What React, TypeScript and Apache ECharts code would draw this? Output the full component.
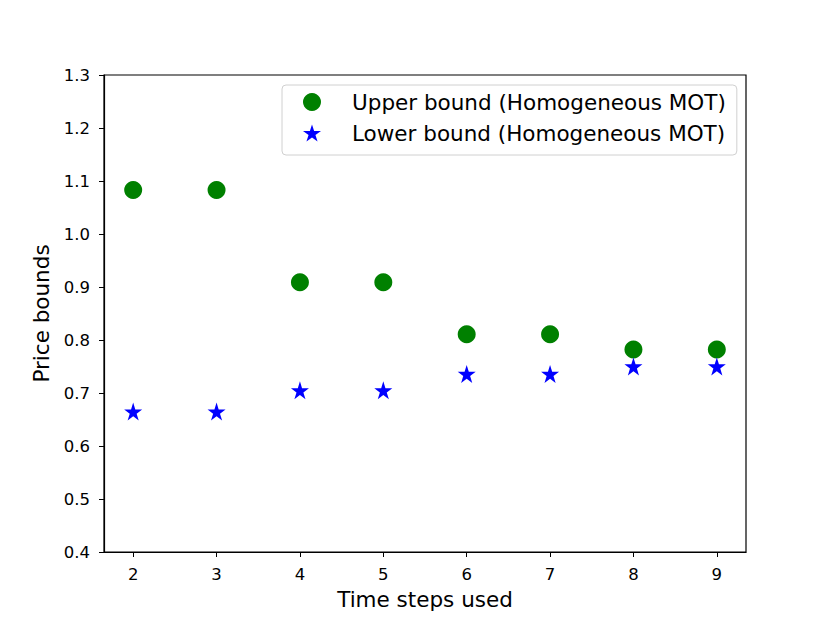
import React, { useEffect, useRef } from "react";
import * as echarts from "echarts";

const timeSteps = [2, 3, 4, 5, 6, 7, 8, 9];
const upperBound = [1.083, 1.083, 0.909, 0.909, 0.811, 0.811, 0.782, 0.782];
const lowerBound = [0.665, 0.665, 0.705, 0.705, 0.736, 0.736, 0.75, 0.75];
const yTicks = [0.4, 0.5, 0.6, 0.7, 0.8, 0.9, 1.0, 1.1, 1.2, 1.3];

const STAR =
  "path://M50,0 L61.2,34.5 L97.6,34.5 L68.2,55.9 L79.4,90.5 L50,69.1 L20.6,90.5 L31.8,55.9 L2.4,34.5 L38.8,34.5 Z";

const FONT = "DejaVu Sans";

export default function App() {
  const ref = useRef<HTMLDivElement>(null);
  useEffect(() => {
    if (!ref.current) return;
    const chart = echarts.init(ref.current, null, { renderer: "svg" });
    chart.setOption({
      animation: false,
      backgroundColor: "#ffffff",
      textStyle: { fontFamily: FONT },
      grid: {
        left: 104,
        right: 82,
        top: 75,
        bottom: 69,
        show: true,
        borderColor: "#000",
        borderWidth: 1.2,
        backgroundColor: "transparent",
      },
      legend: {
        orient: "vertical",
        left: 282,
        top: 85,
        padding: [6, 11, 11, 21],
        itemGap: 9,
        itemWidth: 18,
        itemHeight: 18,
        backgroundColor: "#fff",
        borderColor: "#d0d0d0",
        borderWidth: 1,
        borderRadius: 4,
        textStyle: {
          fontFamily: FONT,
          fontSize: 21.5,
          lineHeight: 22,
          color: "#000",
          padding: [0, 0, 0, 26],
        },
        data: [
          { name: "Upper bound (Homogeneous MOT)", icon: "circle" },
          { name: "Lower bound (Homogeneous MOT)", icon: STAR },
        ],
      },
      xAxis: {
        type: "value",
        min: 1.65,
        max: 9.35,
        name: "Time steps used",
        nameLocation: "middle",
        nameGap: 36,
        nameTextStyle: { fontFamily: FONT, fontSize: 21.5, color: "#000" },
        splitLine: { show: false },
        axisLine: { show: true, onZero: false, lineStyle: { color: "#000", width: 1.2 } },
        axisTick: {
          show: true,
          length: 5,
          inside: false,
          lineStyle: { color: "#000", width: 1 },
          customValues: timeSteps,
        },
        axisLabel: {
          fontFamily: FONT,
          fontSize: 16.5,
          color: "#000",
          margin: 14,
          customValues: timeSteps,
          formatter: (v: number) => String(v),
        },
      },
      yAxis: {
        type: "value",
        min: 0.4,
        max: 1.3,
        name: "Price bounds",
        nameLocation: "middle",
        nameGap: 52,
        nameTextStyle: { fontFamily: FONT, fontSize: 21.5, color: "#000" },
        splitLine: { show: false },
        axisLine: { show: true, onZero: false, lineStyle: { color: "#000", width: 1.2 } },
        axisTick: {
          show: true,
          length: 5,
          lineStyle: { color: "#000", width: 1 },
          customValues: yTicks,
        },
        axisLabel: {
          fontFamily: FONT,
          fontSize: 16.5,
          color: "#000",
          margin: 14,
          customValues: yTicks,
          formatter: (v: number) => v.toFixed(1),
        },
      },
      series: [
        {
          name: "Upper bound (Homogeneous MOT)",
          type: "scatter",
          symbol: "circle",
          symbolSize: 18,
          itemStyle: { color: "#008000", opacity: 1 },
          data: timeSteps.map((t, i) => [t, upperBound[i]]),
        },
        {
          name: "Lower bound (Homogeneous MOT)",
          type: "scatter",
          symbol: STAR,
          symbolSize: 18,
          itemStyle: { color: "#0000ff", opacity: 1 },
          data: timeSteps.map((t, i) => [t, lowerBound[i]]),
        },
      ],
    });
    return () => chart.dispose();
  }, []);
  return <div ref={ref} style={{ width: 828, height: 621, margin: -8 }} />;
}
